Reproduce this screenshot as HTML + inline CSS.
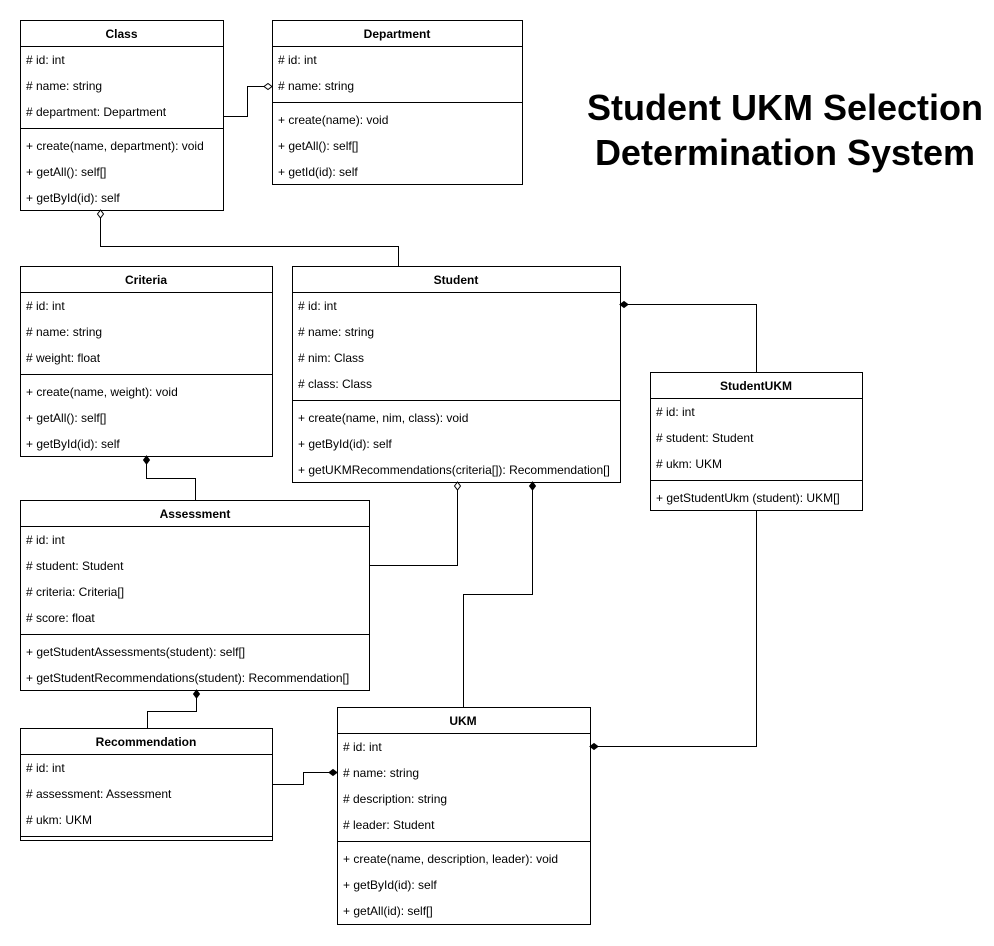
<!DOCTYPE html>
<html><head><meta charset="utf-8"><style>
html,body{margin:0;padding:0;background:#fff;}
svg{display:block;}
text{font-family:"Liberation Sans",Arial,sans-serif;font-size:12px;fill:#000;}
.h{font-weight:bold;text-anchor:middle;}
.t{font-weight:bold;font-size:36px;text-anchor:middle;}
</style></head><body>
<svg width="994" height="946" viewBox="0 0 994 946" xmlns="http://www.w3.org/2000/svg">
<g fill="#fff" stroke="#000" stroke-width="1">
<rect x="20.5" y="20.5" width="203" height="190"/>
<line x1="20" y1="46.5" x2="223" y2="46.5"/><line x1="20" y1="128.5" x2="223" y2="128.5"/>
<rect x="272.5" y="20.5" width="250" height="164"/>
<line x1="272" y1="46.5" x2="522" y2="46.5"/><line x1="272" y1="102.5" x2="522" y2="102.5"/>
<rect x="20.5" y="266.5" width="252" height="190"/>
<line x1="20" y1="292.5" x2="272" y2="292.5"/><line x1="20" y1="374.5" x2="272" y2="374.5"/>
<rect x="292.5" y="266.5" width="328" height="216"/>
<line x1="292" y1="292.5" x2="620" y2="292.5"/><line x1="292" y1="400.5" x2="620" y2="400.5"/>
<rect x="650.5" y="372.5" width="212" height="138"/>
<line x1="650" y1="398.5" x2="862" y2="398.5"/><line x1="650" y1="480.5" x2="862" y2="480.5"/>
<rect x="20.5" y="500.5" width="349" height="190"/>
<line x1="20" y1="526.5" x2="369" y2="526.5"/><line x1="20" y1="634.5" x2="369" y2="634.5"/>
<rect x="20.5" y="728.5" width="252" height="112"/>
<line x1="20" y1="754.5" x2="272" y2="754.5"/><line x1="20" y1="836.5" x2="272" y2="836.5"/>
<rect x="337.5" y="707.5" width="253" height="217"/>
<line x1="337" y1="733.5" x2="590" y2="733.5"/><line x1="337" y1="841.5" x2="590" y2="841.5"/>
</g>
<g fill="none" stroke="#000" stroke-width="1">
<polyline points="223,116.5 247.5,116.5 247.5,86.5 264,86.5"/>
<polyline points="100.5,218 100.5,246.5 398.5,246.5 398.5,266"/>
<polyline points="628,304.5 756.5,304.5 756.5,372"/>
<polyline points="146.5,464 146.5,478.5 195.5,478.5 195.5,500"/>
<polyline points="369,565.5 457.5,565.5 457.5,490"/>
<polyline points="532.5,490 532.5,594.5 463.5,594.5 463.5,707"/>
<polyline points="756.5,510 756.5,746.5 598,746.5"/>
<polyline points="196.5,698 196.5,711.5 147.5,711.5 147.5,728"/>
<polyline points="272,784.5 303.5,784.5 303.5,772.5 329,772.5"/>
</g>
<g stroke="#000" stroke-width="1">
<polygon points="272,86.5 268,83.5 264,86.5 268,89.5" fill="#fff"/>
<polygon points="100.5,210 97.5,214 100.5,218 103.5,214" fill="#fff"/>
<polygon points="457.5,482 454.5,486 457.5,490 460.5,486" fill="#fff"/>
<polygon points="620,304.5 624,301.5 628,304.5 624,307.5" fill="#000"/>
<polygon points="146.5,456 143.5,460 146.5,464 149.5,460" fill="#000"/>
<polygon points="532.5,482 529.5,486 532.5,490 535.5,486" fill="#000"/>
<polygon points="590,746.5 594,743.5 598,746.5 594,749.5" fill="#000"/>
<polygon points="196.5,690 193.5,694 196.5,698 199.5,694" fill="#000"/>
<polygon points="337,772.5 333,769.5 329,772.5 333,775.5" fill="#000"/>
</g>
<text class="h" x="121.5" y="38">Class</text>
<text x="26" y="64"># id: int</text><text x="26" y="90"># name: string</text><text x="26" y="116"># department: Department</text>
<text x="26" y="150">+ create(name, department): void</text><text x="26" y="176">+ getAll(): self[]</text><text x="26" y="202">+ getById(id): self</text>
<text class="h" x="397" y="38">Department</text>
<text x="278" y="64"># id: int</text><text x="278" y="90"># name: string</text>
<text x="278" y="124">+ create(name): void</text><text x="278" y="150">+ getAll(): self[]</text><text x="278" y="176">+ getId(id): self</text>
<text class="t" x="785" y="120">Student UKM Selection</text>
<text class="t" x="785" y="165">Determination System</text>
<text class="h" x="146" y="284">Criteria</text>
<text x="26" y="310"># id: int</text><text x="26" y="336"># name: string</text><text x="26" y="362"># weight: float</text>
<text x="26" y="396">+ create(name, weight): void</text><text x="26" y="422">+ getAll(): self[]</text><text x="26" y="448">+ getById(id): self</text>
<text class="h" x="456" y="284">Student</text>
<text x="298" y="310"># id: int</text><text x="298" y="336"># name: string</text><text x="298" y="362"># nim: Class</text><text x="298" y="388"># class: Class</text>
<text x="298" y="422">+ create(name, nim, class): void</text><text x="298" y="448">+ getById(id): self</text><text x="298" y="474">+ getUKMRecommendations(criteria[]): Recommendation[]</text>
<text class="h" x="756" y="390">StudentUKM</text>
<text x="656" y="416"># id: int</text><text x="656" y="442"># student: Student</text><text x="656" y="468"># ukm: UKM</text>
<text x="656" y="502">+ getStudentUkm (student): UKM[]</text>
<text class="h" x="195" y="518">Assessment</text>
<text x="26" y="544"># id: int</text><text x="26" y="570"># student: Student</text><text x="26" y="596"># criteria: Criteria[]</text><text x="26" y="622"># score: float</text>
<text x="26" y="656">+ getStudentAssessments(student): self[]</text><text x="26" y="682">+ getStudentRecommendations(student): Recommendation[]</text>
<text class="h" x="146" y="746">Recommendation</text>
<text x="26" y="772"># id: int</text><text x="26" y="798"># assessment: Assessment</text><text x="26" y="824"># ukm: UKM</text>
<text class="h" x="463" y="725">UKM</text>
<text x="343" y="751"># id: int</text><text x="343" y="777"># name: string</text><text x="343" y="803"># description: string</text><text x="343" y="829"># leader: Student</text>
<text x="343" y="863">+ create(name, description, leader): void</text><text x="343" y="889">+ getById(id): self</text><text x="343" y="915">+ getAll(id): self[]</text>
</svg>
</body></html>
